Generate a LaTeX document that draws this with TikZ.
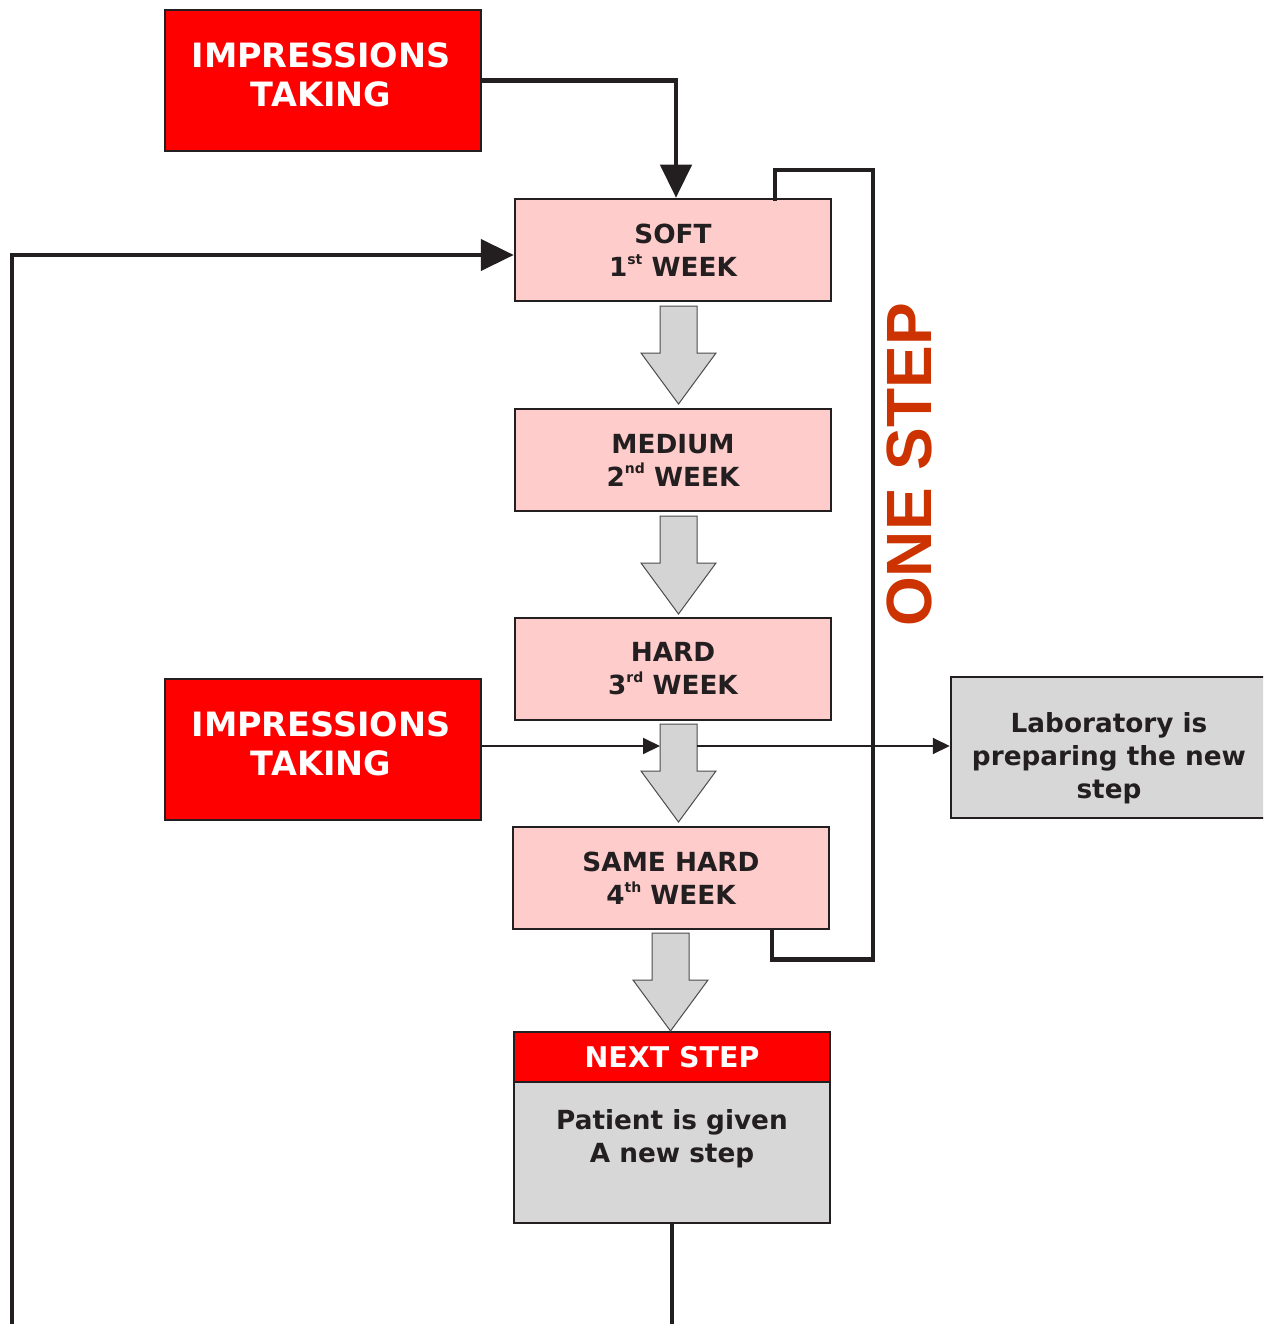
\documentclass[tikz,border=0pt]{standalone}
\usepackage{fontspec}
\setmainfont{DejaVu Sans}
\newfontfamily\arialfont{Liberation Sans}
\usetikzlibrary{arrows.meta,calc}
\definecolor{linec}{HTML}{231F20}
\definecolor{redc}{HTML}{FF0000}
\definecolor{pinkc}{HTML}{FFCCCC}
\definecolor{grayc}{HTML}{D8D7D7}
\definecolor{arrowc}{HTML}{D4D4D4}
\definecolor{onec}{HTML}{CC3300}
\newcommand{\sups}[1]{\raisebox{0.85ex}{\fontsize{14}{14}\selectfont #1}}
\tikzset{
  box/.style={draw=linec, line width=2.5pt, minimum width=316pt, minimum height=102pt,
    inner sep=0pt, align=center, text=linec, font=\bfseries\fontsize{26.3}{33}\selectfont},
  pinkbox/.style={box, fill=pinkc},
  redbox/.style={box, fill=redc, text=white},
  graybox/.style={box, fill=grayc},
  imptext/.style={align=center, text=white, inner sep=0pt, font=\bfseries\fontsize{33.5}{39}\selectfont},
  bodytext/.style={align=center, text=linec, inner sep=0pt, font=\bfseries\fontsize{26.3}{33}\selectfont},
  thickarrow/.style={draw=linec, line width=4.5pt, -{Triangle[length=33pt,width=31pt]}},
  thinarrow/.style={draw=linec, line width=2pt, -{Triangle[length=17pt,width=16pt]}},
  bracket/.style={draw=linec, line width=4.5pt, line join=miter},
  barrow/.style={draw=black!70, line width=1pt, fill=arrowc, line join=miter},
}
\begin{document}
\begin{tikzpicture}[x=1pt,y=-1pt]
\clip (0,0) rectangle (1263,1324);
\fill[white] (0,0) rectangle (1263,1324);
% impressions boxes
\node[redbox, minimum height=141pt] (imp1) at (323,80.5) {};
\node[imptext] (imp1t) at (321,75) {IMPRESSIONS\\TAKING};
\node[redbox, minimum height=141pt] (imp2) at (323,749.5) {};
\node[imptext] (imp2t) at (321,744) {IMPRESSIONS\\TAKING};
% week boxes
\node[pinkbox] (soft) at (673,250) {SOFT\\1\sups{st} WEEK};
\node[pinkbox] (medium) at (673,460) {MEDIUM\\2\sups{nd} WEEK};
\node[pinkbox] (hard) at (673,669) {HARD\\3\sups{rd} WEEK};
\node[pinkbox] (same) at (671,878) {SAME HARD\\4\sups{th} WEEK};
% next step
\node[graybox, minimum height=141pt] (body) at (672,1152.5) {};
\node[bodytext] (bodyt) at (672,1139) {Patient is given\\A new step};
\node[redbox, minimum height=50pt, font=\bfseries\fontsize{28.5}{33}\selectfont] (nexth) at (672,1057) {NEXT STEP};
% laboratory
\node[graybox, minimum width=324pt, minimum height=141pt] (lab) at (1113,747.5) {};
\node[bodytext] (labt) at (1109,758) {Laboratory is\\preparing the new\\step};
% block arrows
\foreach \cx/\cy in {678.5/306, 678.5/516, 678.5/724, 670.5/933}{
  \draw[barrow] (\cx,\cy) ++(-18.5,0) -- ++(37,0) -- ++(0,47) -- ++(19,0)
     -- ++(-37.5,51) -- ++(-37.5,-51) -- ++(19,0) -- cycle;
}
% one step bracket
\draw[bracket] ($(soft.north)+(102,3)$) |- (873,170) |- ($(same.south)+(101,29)$) -- ($(same.south)+(101,0)$);
\node[rotate=90, text=onec, inner sep=0pt, font=\arialfont\bfseries\fontsize{64}{64}\selectfont] (onestep) at (909,465) {ONE STEP};
% connectors
\draw[thickarrow] (imp1.east) -| ($(soft.north)+(3,0)$);
\draw[thickarrow] (body.south) -- ++(0,150) -| (12,255) -- ($(soft.west)+(0,5)$);
\coordinate (bw) at (660,746);
\coordinate (be) at (697,746);
\draw[thinarrow] (imp2.east |- bw) -- (bw);
\draw[thinarrow] (be) -- (lab.west |- be);
\end{tikzpicture}
\end{document}
